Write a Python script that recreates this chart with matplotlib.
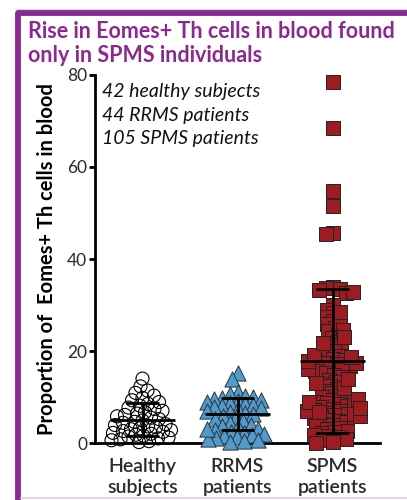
import numpy as np
import matplotlib.pyplot as plt
from matplotlib.lines import Line2D

plt.rcParams['font.family'] = ['Lato', 'DejaVu Sans']

# Data
groups = ['Healthy\nsubjects', 'RRMS\npatients', 'SPMS\npatients']

healthy = [14.0, 12.3, 11.4, 10.9, 10.3, 9.8, 9.3, 8.9, 8.5, 8.1, 7.7, 7.4, 7.0, 6.7,
           6.4, 6.1, 5.8, 5.5, 5.2, 4.9, 4.6, 4.4, 4.1, 3.9, 3.6, 3.4, 3.2, 3.0, 2.8,
           2.6, 2.4, 2.2, 2.0, 1.8, 1.6, 1.4, 1.2, 1.0, 0.8, 0.6, 0.4, 0.2]

rrms = [15.2, 14.0, 11.0, 10.6, 10.3, 10.0, 9.8, 9.6, 9.4, 9.1, 8.9, 8.7, 8.4, 8.2,
        8.0, 7.8, 7.6, 7.3, 7.0, 6.8, 6.5, 6.2, 5.9, 5.6, 5.2, 4.8, 4.4, 4.0, 3.7,
        3.4, 3.1, 2.8, 2.5, 2.2, 2.0, 1.8, 1.5, 1.3, 1.0, 0.8, 0.6, 0.4, 0.2, 3.0]

spms = [78.4, 68.4, 54.8, 51.5, 45.7, 45.4,
        34.0, 33.8, 33.5, 33.2, 32.6, 32.9,
        30.0, 29.0, 28.2, 27.4, 26.5, 25.8, 25.0, 24.3, 23.6, 22.8, 22.0, 21.3, 20.6, 20.0,
        19.5, 19.0, 18.6, 18.3, 18.0, 17.7, 17.4, 17.1, 16.8, 16.5, 16.2, 15.9, 15.6, 15.2, 14.8,
        14.3, 13.8, 13.3, 12.8, 12.3, 11.8, 11.3, 10.8, 10.3,
        9.9, 9.6, 9.3, 9.0, 8.7, 8.4, 8.1, 7.8, 7.5, 7.2, 6.9, 6.6, 6.3, 6.0, 5.7, 5.4, 5.1, 4.8,
        4.5, 4.2, 3.9, 3.6, 3.3, 3.0, 2.7, 2.4, 2.1, 1.8, 1.5, 1.2, 0.9, 0.6, 0.3, 0.0,
        17.5, 18.8, 16.0, 17.9, 19.2, 8.2, 7.0, 6.4, 5.9, 8.9, 9.5, 6.8, 7.6,
        26.0, 28.5, 24.6, 21.7, 23.0, 12.0, 13.0, 14.0]

means = [5.1, 6.3, 17.8]
sds = [3.5, 3.45, 15.7]

notes = ['42 healthy subjects', '44 RRMS patients', '105 SPMS patients']

purple = '#8B2A8E'
dark = '#2b2b2b'


def swarm(vals, d=8.0, xpx=95.0, ypx=4.6, maxw=30):
    # simple beeswarm in pixel space, returns x offsets in data units
    cands = sorted(np.arange(-maxw, maxw + 0.5, 0.5), key=lambda c: (abs(c), c))
    placed = []
    offs = []
    for v in vals:
        y = v * ypx
        best, bestd = 0.0, -1
        for c in cands:
            md = min([np.hypot(c - px, y - py) for px, py in placed] or [1e9])
            if md >= d:
                best = c
                break
            if md > bestd:
                best, bestd = c, md
        placed.append((best, y))
        offs.append(best / xpx)
    return np.array(offs)


fig = plt.figure(figsize=(4.07, 5.0), dpi=100)
ax = fig.add_axes([95 / 407, 57 / 500, 285 / 407, 368 / 500])

styles = [dict(marker='o', s=88, facecolors='none', edgecolors='black', linewidths=0.8),
          dict(marker='^', s=120, facecolors='#4E9BCF', edgecolors='#333333', linewidths=0.7),
          dict(marker='s', s=100, facecolors='#9E1B22', edgecolors='#222222', linewidths=0.7)]
swarm_d = [8.0, 8.0, 7.0]
swarm_w = [31, 31, 27]

for i, vals in enumerate([healthy, rrms, spms]):
    xs = i + swarm(vals, d=swarm_d[i], maxw=swarm_w[i])
    ax.scatter(xs, vals, clip_on=False, zorder=3, **styles[i])

for i, (m, s) in enumerate(zip(means, sds)):
    kw = dict(color='black', lw=2.0, zorder=4, clip_on=False, solid_capstyle='butt')
    ax.plot([i - 0.337, i + 0.337], [m, m], **kw)
    ax.plot([i, i], [m - s, m + s], **kw)
    ax.plot([i - 0.174, i + 0.174], [m - s, m - s], **kw)
    ax.plot([i - 0.174, i + 0.174], [m + s, m + s], **kw)

ax.set_xlim(-0.5, 2.5)
ax.set_ylim(0, 80)
ax.set_yticks([0, 20, 40, 60, 80])
ax.set_xticks([0, 1, 2])
ax.set_xticklabels(groups, fontsize=14, fontweight='semibold', color=dark, linespacing=1.3)
ax.tick_params(axis='x', length=0, pad=11)
ax.tick_params(axis='y', length=4.5, width=2, pad=1, labelsize=12.5, labelcolor=dark)
for sp in ['top', 'right']:
    ax.spines[sp].set_visible(False)
for sp in ['left', 'bottom']:
    ax.spines[sp].set_linewidth(2)

for k, t in enumerate(notes):
    ax.text(102 / 407, 1 - [96.7, 121.5, 144.5][k] / 500, t, transform=fig.transFigure,
            fontsize=14, style='italic', color='#111111', va='baseline')

fig.text(47 / 407, 1 - 259 / 500, 'Proportion of  Eomes+ Th cells in blood', rotation=90,
         ha='center', va='center', fontsize=14.5, fontweight='bold', color='black')

fig.text(28 / 407, 1 - 38 / 500, 'Rise in Eomes+ Th cells in blood found', fontsize=15.5,
         fontweight='bold', color=purple, va='baseline')
fig.text(28 / 407, 1 - 61.5 / 500, 'only in SPMS individuals', fontsize=15.5,
         fontweight='bold', color=purple, va='baseline')

# frame around the panel
fig.add_artist(Line2D([15 / 407, 1.0], [1 - 8.5 / 500, 1 - 8.5 / 500], transform=fig.transFigure,
                      color='#d8d8d8', lw=0.8))
fig.add_artist(Line2D([18 / 407, 18 / 407, 1.02], [-0.01, 1 - 12.5 / 500, 1 - 12.5 / 500],
                      transform=fig.transFigure, color=purple, lw=4.2, solid_joinstyle='round'))
fig.add_artist(Line2D([21 / 407, 1.0], [1 - 498 / 500, 1 - 498 / 500], transform=fig.transFigure,
                      color='#d9cde3', lw=1.2))

fig.savefig('out.png', dpi=100)
